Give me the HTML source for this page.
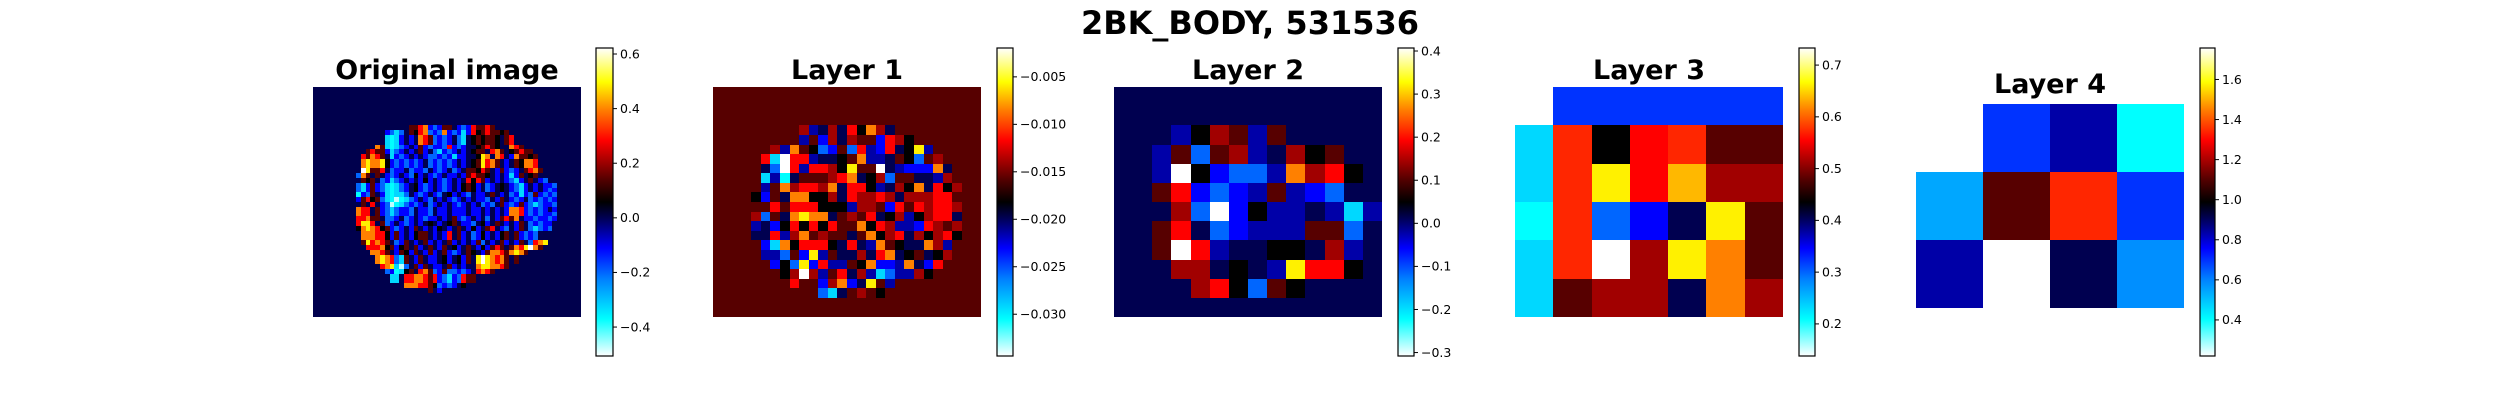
<!DOCTYPE html>
<html><head><meta charset="utf-8">
<style>
html,body{margin:0;padding:0;background:#fff;}
svg{display:block;}
text{font-family:"DejaVu Sans","Liberation Sans",sans-serif;}
</style></head>
<body>
<svg id="fig" xmlns="http://www.w3.org/2000/svg" width="2500" height="400" viewBox="0 0 2500 400">
<rect width="2500" height="400" fill="#fff"/>
<text x="1250" y="34" text-anchor="middle" font-size="32" font-weight="bold">2BK_BODY, 531536</text>
<defs>
<linearGradient id="cmapgrad" x1="0" y1="1" x2="0" y2="0">
<stop offset="0" stop-color="#ffffff"/><stop offset="0.12" stop-color="#00ffff"/><stop offset="0.25" stop-color="#0080ff"/><stop offset="0.35" stop-color="#0000ff"/><stop offset="0.45" stop-color="#000050"/><stop offset="0.5" stop-color="#000000"/><stop offset="0.57" stop-color="#500000"/><stop offset="0.7" stop-color="#ff0000"/><stop offset="0.8" stop-color="#ff8000"/><stop offset="0.89" stop-color="#ffff00"/><stop offset="1" stop-color="#ffffff"/>
</linearGradient>
</defs>
<g id="panels"></g>
</svg>
<script>
// ---- data: cell level codes (position in colour range) per heatmap ----
const levelCodes = {'W':0.03,'C':0.12,'c':0.16,'a':0.21,'A':0.235,'B':0.27,'v':0.31,'b':0.35,'N':0.40,'n':0.45,'k':0.5,'r':0.575,'d':0.63,'R':0.7,'q':0.73,'o':0.8,'O':0.84,'y':0.88,'w':1.0};
const originalBlob = [
"...........rrRobBbrrnbBbRrrRr...........",
"......bBcBnrkRoBbBobBbcbRkrRrrkr........",
"......cCcbnbnoRrBbBbnBcnkrkrrknrR.......",
"......cCcbnbnoRrBbBbnBcnkrkrrknrR.......",
"....orcCcBbnbrbBbbBRbBbnnkrRrknnoRr.....",
"..rRrrbcBbnbnrbnBcbBbnbnkrrnRornkrRrr...",
".RroRrncbBbnbnbBBbBbcbbnnkyonoRnborrkr..",
".oyooykbBbBbBbnBbBbBbnbnkryRornbnrkooR..",
".oyooykbBbBbBbnBbBbBbnbnkryRornbnrkooR..",
".wyrrRnBbbnBbbBnbBbnBbnrrkRrnbrbBbnrRor.",
"BornrnbBbnbBkbnbBbnbbnbrRrrknbnbcbrnkrn.",
"nrkrnBbcBbnbnbkbnbBbnbnRkRrbnbnbBcbnrnbB",
"BcbrbBcCcBbnkbBbnbBbnbkrkbnBbnknbBcbnbnbbB",
"BcbrbBcCcBbnkbBbnbBbnbkrkbnBbnknbBcbnbnbBb",
"CbBrnbcCccBnbBbnbBnkbnbBnbbnrnbnBbcbBrbBbB",
"brRkrBcCWCcBbnbBnbnbBbnbnbbBnbrnbBbnBbBbBb",
"nrnRnbBWCcBbBbnBbnbnbBbnbnBbBnrbBbrbBcBbbB",
"oRRnrbBcBbbBnbbBnbbnbbbnbbnbnbnbooRbBbBbnb",
"oRRnrbBcBbbBnbbBnbbnbbbnbbnbnbnbooRbBbBbbB",
"RRorrnBBbnBbnbBbbnbnrbBbnbnBnbrRronbbBbbBb",
"RyyRnrBbnbBbnbnknbnkrnbbBnkbnrnbnbrnBbBbbn",
"koyoRkrbBbnbrnbnbknbnrnbkbnrRnbBnbrnBcBbB",
".oooRRkbrbnbkrrnbnbRnrbnBbkbnbkrnrbBbBn",
".oooRRkbrbnbkrrnbnbRnrbnBbkbnbkrnrbBbB",
".ryRoRrnBbrnbnrbnbnrbnbnbrBnbnrbnbrnBRoy",
"..RRRokrbkrnrbnrnbrnkbnrnbkbrRrnroRywor.",
"...ooRrnbrkbrnbrbnrbBbnrknbrooRroyor....",
"....oyoRBcrnbrnbbnkbnkbrnywyoRornr......",
"....oyoRBcrnbrnbbnkbnkbrnywyoRornr......",
".....RoycWBnrbrnbbnrbnbnnoyyooRr........",
"......BbCckrnRorBbrBBbBbnRoRrn..........",
".......ccnRRooRrRbBcbBRrr...............",
".......ccnRRooRrRbBcbBRrr...............",
"..........oooRRrkBbBbnk.................",
"...............rnb......................"
];
const layer1Rows = [
"............................",
"............................",
"............................",
"............................",
".........dNndnRkodn.........",
".......rrNrbdndrrbRdk.......",
"......dNorkBbrBRNbRnkyN.....",
".....RcwRRNnnkroNNnrkBrdr...",
".....nBwRNRRdkyrrwnNbbbonr..",
".....cNCnrrrdRonkdBrrnnNdr..",
"....rNrodRRdonRRkNndkonRkd..",
"....kbrnookkdnRddRdndddRRr..",
"....rrRrRRRkkkNddrbRrRdRRd..",
"....dBrnoyoonrdrRnkdNkdRRn..",
"....NnbkRkRkRrrokRdNNbRdrd..",
"....nnRNdordrrnrokdRndkdRk..",
".....bcokRRRknRnNorknnodN...",
".....NNBrbyNrnndnRonkrnkd...",
"......bkBybRNNrkobbNonbR....",
".......kdwdNrRndNcBNNdk.....",
"........RrrbdobnyrN.........",
"..........rBcnrdrk..........",
"............................",
"............................"
];
const layer2Rows = [
"nnnnnnnnnnnnnn","nnnnnnnnnnnnnn","nnnNkdrNrnnnnn","nnNrBrdNndkrnn",
"nnNwkbBBNodRkn","nnrRbBbNrNbBnn","nnndBwbkNNnNcN","nnrRnBbNNNrrBn",
"nnrwRNnnkkndNn","nnnddnknNyRRkn","nnnndRkBrknnnn","nnnnnnnnnnnnnn"
];
const layer3Rows = ["_vvvvvv","cqkRqrr","cqyROdd","CqBbnyr","cqwdyor","crddnod"];
const layer4Rows = ["_vNC","arqv","N_nA"];
// colour ranges and tick labels
const vmins = [-0.506, -0.0344, -0.308, 0.138, 0.22];
const vmaxs = [0.622, -0.00196, 0.407, 0.733, 1.757];
const ticks0 = [-0.4,-0.2,0.0,0.2,0.4,0.6];
const ticks1 = [-0.030,-0.025,-0.020,-0.015,-0.010,-0.005];
const ticks2 = [-0.3,-0.2,-0.1,0.0,0.1,0.2,0.3,0.4];
const ticks3 = [0.2,0.3,0.4,0.5,0.6,0.7];
const ticks4 = [0.4,0.6,0.8,1.0,1.2,1.4,1.6];
const tickDecimals = [1,3,1,1,1];
const titles = ["Original image","Layer 1","Layer 2","Layer 3","Layer 4"];
const bgLevels = [0.452, 0.575, 0.455, null, null];

function buildOriginal(){
  const rows=[];
  for(let i=0;i<48;i++){
    const j=i-8;
    let s = (j>=0 && j<originalBlob.length) ? "........."+originalBlob[j] : "";
    while(s.length<56) s+=".";
    rows.push(s.slice(0,56));
  }
  return rows;
}
const grids=[buildOriginal(), layer1Rows, layer2Rows, layer3Rows, layer4Rows];
const tickSets=[ticks0,ticks1,ticks2,ticks3,ticks4];

// layout (pixels)
const axesBoxes=[[313,87,268,230],[713,87,268,230],[1114,87,268,230],[1515,87,268,230],[1916,104,268,204]];
const cbBoxes=[[596,48,17,308],[997,48,16,308],[1398,48,16,308],[1799,48,16,308],[2200,48,15,308]];
const titleY=[79,79,79,79,93];

const stops=[[0,[255,255,255]],[0.12,[0,255,255]],[0.25,[0,128,255]],[0.35,[0,0,255]],[0.45,[0,0,80]],[0.5,[0,0,0]],[0.57,[80,0,0]],[0.7,[255,0,0]],[0.8,[255,128,0]],[0.89,[255,255,0]],[1,[255,255,255]]];
function cmap(t){
  t=Math.max(0,Math.min(1,t));
  for(let i=1;i<stops.length;i++){
    if(t<=stops[i][0]){
      const a=stops[i-1],b=stops[i],f=(t-a[0])/(b[0]-a[0]);
      const c=a[1].map((v,k)=>Math.round(v+(b[1][k]-v)*f));
      return "rgb("+c.join(",")+")";
    }
  }
  return "rgb(255,255,255)";
}
const NS="http://www.w3.org/2000/svg";
const root=document.getElementById("panels");
function mk(tag,attrs){const e=document.createElementNS(NS,tag);for(const k in attrs)e.setAttribute(k,attrs[k]);return e;}
function fmt(v,d){const s=Math.abs(v).toFixed(d);return (v<0?"\u2212":"")+s;}

for(let p=0;p<5;p++){
  const g=mk("g",{});
  
  
  root.appendChild(g);
  const [ax,ay,aw,ah]=axesBoxes[p];
  const grid=grids[p], nr=grid.length, nc=grid[0].length;
  const vmin=vmins[p], vmax=vmaxs[p];
  const cw=aw/nc, ch=ah/nr;
  const xs=c=>ax+c*cw, ys=r=>ay+r*ch;
  const heat=mk("g",{"shape-rendering":"crispEdges"});
  
  
  g.appendChild(heat);
  for(let r=0;r<nr;r++){
    for(let c=0;c<nc;c++){
      const ch0=grid[r][c];
      if(ch0==="_") continue;
      const lvl = ch0==="." ? bgLevels[p] : levelCodes[ch0];
      const value = vmin + lvl*(vmax-vmin);
      const t=(value-vmin)/(vmax-vmin);
      const x0=Math.round(xs(c)), x1=Math.round(xs(c+1)), y0=Math.round(ys(r)), y1=Math.round(ys(r+1));
      const rect=mk("rect",{x:x0,y:y0,width:x1-x0,height:y1-y0,fill:cmap(t)});
      
      
      heat.appendChild(rect);
    }
  }
  const title=mk("text",{x:ax+aw/2,y:titleY[p],"text-anchor":"middle","font-size":"27","font-weight":"bold"});
  title.textContent=titles[p];
  
  
  g.appendChild(title);
  const [cx,cy,cwid,chgt]=cbBoxes[p];
  const cb=mk("g",{});
  
  
  g.appendChild(cb);
  cb.appendChild(mk("rect",{x:cx,y:cy,width:cwid,height:chgt,fill:"url(#cmapgrad)",stroke:"#000","stroke-width":"1.2"}));
  const vy=v=>cy+chgt-(v-vmin)/(vmax-vmin)*chgt;
  tickSets[p].forEach(v=>{
    const y=vy(v);
    const tk=mk("line",{x1:cx+cwid,x2:cx+cwid+4,y1:y,y2:y,stroke:"#000","stroke-width":"1"});
    
    
    cb.appendChild(tk);
    const lb=mk("text",{x:cx+cwid+7,y:y+4.3,"font-size":"12.5",fill:"#000"});
    lb.textContent=fmt(v,tickDecimals[p]);
    
    
    cb.appendChild(lb);
  });
}
</script>
</body></html>
